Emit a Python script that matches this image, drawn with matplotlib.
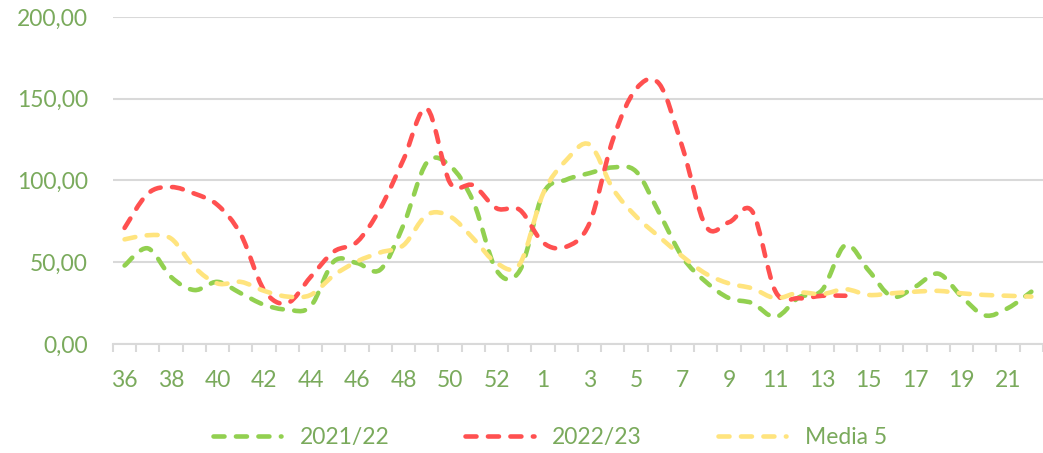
import numpy as np
import matplotlib
matplotlib.use("Agg")
import matplotlib.pyplot as plt
from matplotlib.path import Path
from matplotlib.patches import PathPatch
from matplotlib.lines import Line2D
from matplotlib.ticker import FuncFormatter

plt.rcParams['font.family'] = ['Lato', 'DejaVu Sans']

# semanas epidemiologicas (36 a 53, luego 1 a 22)
weeks = ['36', '37', '38', '39', '40', '41', '42', '43', '44', '45', '46', '47',
         '48', '49', '50', '51', '52', '53', '1', '2', '3', '4', '5', '6', '7',
         '8', '9', '10', '11', '12', '13', '14', '15', '16', '17', '18', '19',
         '20', '21', '22']

s2122 = [48, 58.5, 41, 33, 38, 31, 24, 21, 23, 50.5, 49.5, 45.5, 73, 111, 109,
         87, 45, 45, 92, 100.5, 104.5, 108, 105.5, 80, 53, 38, 28, 25, 16.5,
         28.5, 33, 60.5, 45, 29, 35, 43, 29, 17.5, 22, 32]
s2223 = [71, 92, 96, 92, 85, 67, 33, 25, 41, 56.5, 62.5, 83, 113, 144, 98.5,
         97, 83, 82, 62, 59.5, 74, 125, 156, 159, 120, 72, 74.5, 81, 32,
         28, 29.5, 29.5]
media5 = [64, 66.5, 64.5, 47, 37, 38, 32.5, 29, 30, 42, 50.5, 56, 60.5, 79, 78,
          64.5, 49.5, 49, 92, 112.5, 122, 95, 78, 65.5, 53.5, 43, 37, 34, 28,
          31.5, 30.5, 33.5, 30, 31, 32, 32.5, 31, 30, 29.5, 29]

series = [("2021/22", s2122, "#92D050"),
          ("2022/23", s2223, "#FF5050"),
          ("Media 5", media5, "#FFE47E")]

txt_color = "#7AAA5C"
grid_color = "#D9D9D9"
lw = 3.3
dash = (0, (2.4, 2.5))


def smooth_path(x, y):
    # curva suavizada tipo Excel (Catmull-Rom -> Bezier)
    pts = np.column_stack([x, y]).astype(float)
    n = len(pts)
    verts = [pts[0]]
    codes = [Path.MOVETO]
    for i in range(n - 1):
        p0 = pts[i - 1] if i > 0 else pts[i]
        p1 = pts[i]
        p2 = pts[i + 1]
        p3 = pts[i + 2] if i + 2 < n else pts[i + 1]
        verts += [p1 + (p2 - p0) / 6, p2 - (p3 - p1) / 6, p2]
        codes += [Path.CURVE4] * 3
    return Path(verts, codes)


fig = plt.figure(figsize=(10.43, 4.53), dpi=100)
ax = fig.add_axes([0.1083, 0.2406, 0.8917, 0.7219])

handles = []
for name, vals, col in series:
    x = np.arange(len(vals))
    patch = PathPatch(smooth_path(x, vals), fill=False, edgecolor=col,
                      linewidth=lw, linestyle=dash, capstyle='round',
                      joinstyle='round')
    ax.add_patch(patch)
    handles.append(Line2D([], [], color=col, lw=lw, linestyle=dash,
                          dash_capstyle='round', label=name))

ax.set_xlim(-0.5, 39)
ax.set_ylim(0, 200)

ax.set_yticks([0, 50, 100, 150, 200])
ax.yaxis.set_major_formatter(FuncFormatter(lambda v, p: f"{v:.2f}".replace('.', ',')))
ax.yaxis.grid(True, color=grid_color, lw=1.5)
ax.set_axisbelow(True)
ax.tick_params(axis='y', length=0, pad=18, labelsize=16.5, labelcolor=txt_color)

ax.set_xticks(np.arange(0, len(weeks), 2))
ax.set_xticklabels(weeks[::2])
ax.set_xticks(np.arange(-0.5, len(weeks), 1), minor=True)
ax.tick_params(axis='x', which='major', length=0, pad=19, labelsize=16.5,
               labelcolor=txt_color)
ax.tick_params(axis='x', which='minor', length=6, width=1.5, color=grid_color)

for s in ['top', 'right', 'left']:
    ax.spines[s].set_visible(False)
ax.spines['bottom'].set_color(grid_color)
ax.spines['bottom'].set_linewidth(1.5)

fig.legend(handles=handles, loc='center', bbox_to_anchor=(0.527, 0.035),
           ncol=3, frameon=False, fontsize=16.5, labelcolor=txt_color,
           handlelength=3.0, handletextpad=0.8, columnspacing=3.3)

fig.savefig("out.png", dpi=100)
